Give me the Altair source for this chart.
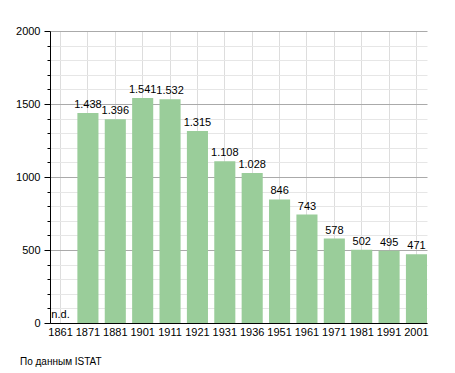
import altair as alt
import pandas as pd

years = ["1861", "1871", "1881", "1901", "1911", "1921", "1931", "1936", "1951", "1961", "1971", "1981", "1991", "2001"]
values = [None, 1438, 1396, 1541, 1532, 1315, 1108, 1028, 846, 743, 578, 502, 495, 471]
labels = ["n.d." if v is None else f"{v:,}".replace(",", ".") for v in values]
ticks = list(range(0, 2001, 100))
source_note = "По данным  ISTAT"

df = pd.DataFrame({"year": years, "value": values, "label": labels,
                   "pos": [0 if v is None else v for v in values]})

font = "Liberation Sans"
W, H = 377, 292

x_axis = alt.Axis(labelAngle=0, ticks=False, domainColor="black", labelColor="black",
                  labelFont=font, labelFontSize=11, labelPadding=3)
x_scale = alt.Scale(paddingInner=0.23, paddingOuter=0)
y_scale = alt.Scale(domain=[0, 2000], nice=False)
y_axis = alt.Axis(values=ticks, format="d", labelOverlap=False,
                  labelExpr="datum.value % 500 === 0 ? datum.label : ''",
                  labelFont=font, labelFontSize=11, labelColor="black",
                  domainColor="black", tickColor="black",
                  tickSize={"condition": {"test": "datum.value % 500 === 0", "value": 6}, "value": 3},
                  gridColor={"condition": {"test": "datum.value % 500 === 0", "value": "#aaaaaa"}, "value": "#e6e6e6"},
                  labelPadding=4)

bars = alt.Chart(df).mark_bar(color="#9acd9a").encode(
    x=alt.X("year:N", sort=years, title=None, scale=x_scale, axis=x_axis),
    y=alt.Y("value:Q", scale=y_scale, title=None, axis=y_axis),
)

text = alt.Chart(df).mark_text(baseline="bottom", dy=-3, font=font, fontSize=11, color="black").encode(
    x=alt.X("year:N", sort=years, title=None, scale=x_scale, axis=x_axis),
    y=alt.Y("pos:Q", scale=y_scale, title=None, axis=y_axis),
    text="label:N",
)

note = alt.Chart(pd.DataFrame({"t": [source_note]})).mark_text(
    align="left", baseline="middle", font=font, fontSize=10, color="black"
).encode(x=alt.value(-30), y=alt.value(331), text="t:N")

chart = alt.layer(bars, text, note).properties(
    width=W, height=H,
    autosize=alt.AutoSizeParams(type="none"),
    padding={"left": 42, "top": 23, "right": 20, "bottom": 50},
).configure_view(stroke=None).configure_axis(grid=True)

chart.save("out.html", embed_options={"renderer": "svg", "actions": False})
